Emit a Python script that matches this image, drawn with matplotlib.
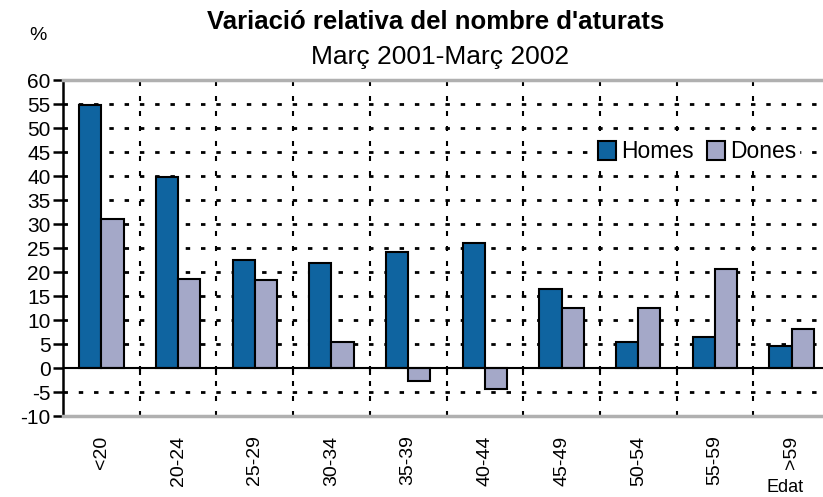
import numpy as np
import matplotlib
matplotlib.use("Agg")
import matplotlib.pyplot as plt

plt.rcParams['font.family'] = ['Liberation Sans', 'DejaVu Sans']
plt.rcParams['axes.unicode_minus'] = False

# data
edats = ['<20', '20-24', '25-29', '30-34', '35-39', '40-44', '45-49', '50-54', '55-59', '>59']
homes = [54.7, 39.7, 22.6, 21.8, 24.2, 26.1, 16.5, 5.5, 6.4, 4.6]
dones = [31.1, 18.6, 18.3, 5.5, -2.7, -4.3, 12.5, 12.5, 20.7, 8.2]

c_homes = '#0F64A0'
c_dones = '#A4A8C8'

fig = plt.figure(figsize=(8.23, 4.97), dpi=100)
ax = fig.add_axes([63/823, 1 - 416/497, 1 - 63/823, 336/497])

x = np.arange(len(edats))
w = 0.29
ax.bar(x - w/2, homes, w, color=c_homes, edgecolor='black', linewidth=1.5, label='Homes', zorder=3)
ax.bar(x + w/2, dones, w, color=c_dones, edgecolor='black', linewidth=1.5, label='Dones', zorder=3)

ax.set_ylim(-10, 60)
ax.set_xlim(-0.5, -0.5 + 760/76.7)
ax.set_yticks(np.arange(-10, 61, 5))

# dotted grid
for v in np.arange(-5, 60, 5):
    if v == 0:
        continue
    ax.axhline(v, color='black', lw=2, ls=(0, (1.6, 3.9)), zorder=1)
bounds = np.arange(len(edats)) + 0.5
for b in bounds:
    ax.axvline(b, color='black', lw=1.5, ls=(0, (2.4, 4.8)), zorder=1)
ax.axhline(0, color='black', lw=1.5, zorder=4)
ax.vlines(bounds, -1.5, 0, color='black', lw=1.5, zorder=4)

for s in ['top', 'bottom']:
    ax.spines[s].set_color('#B0B0B0')
    ax.spines[s].set_linewidth(2.5)
ax.spines['right'].set_visible(False)
ax.spines['left'].set_linewidth(1.8)

ax.tick_params(axis='y', direction='out', length=7, width=1.8, labelsize=15, pad=2)
ax.set_xticks(x)
ax.set_xticklabels(edats, rotation=90, fontsize=14)
ax.tick_params(axis='x', length=0, pad=14)

leg = ax.legend(loc='center', frameon=True,
                fontsize=16.5, ncol=2, handlelength=0.8, handleheight=0.9,
                handletextpad=0.2, columnspacing=0.6, borderpad=0.1,
                bbox_to_anchor=(697/823, 1 - 152/497), bbox_transform=fig.transFigure)
leg.get_frame().set_edgecolor('white')
leg.get_frame().set_facecolor('white')
leg.get_frame().set_alpha(1)

fig.text(436/823, 1 - 22/497, "Variació relativa del nombre d'aturats",
         ha='center', va='center', fontsize=18.5, fontweight='bold')
fig.text(440/823, 1 - 57/497, 'Març 2001-Març 2002', ha='center', va='center', fontsize=19)
fig.text(38/823, 1 - 35/497, '%', ha='center', va='center', fontsize=14)
fig.text(785/823, 1 - 488/497, 'Edat', ha='center', va='center', fontsize=13)

fig.savefig('out.png', dpi=100)
